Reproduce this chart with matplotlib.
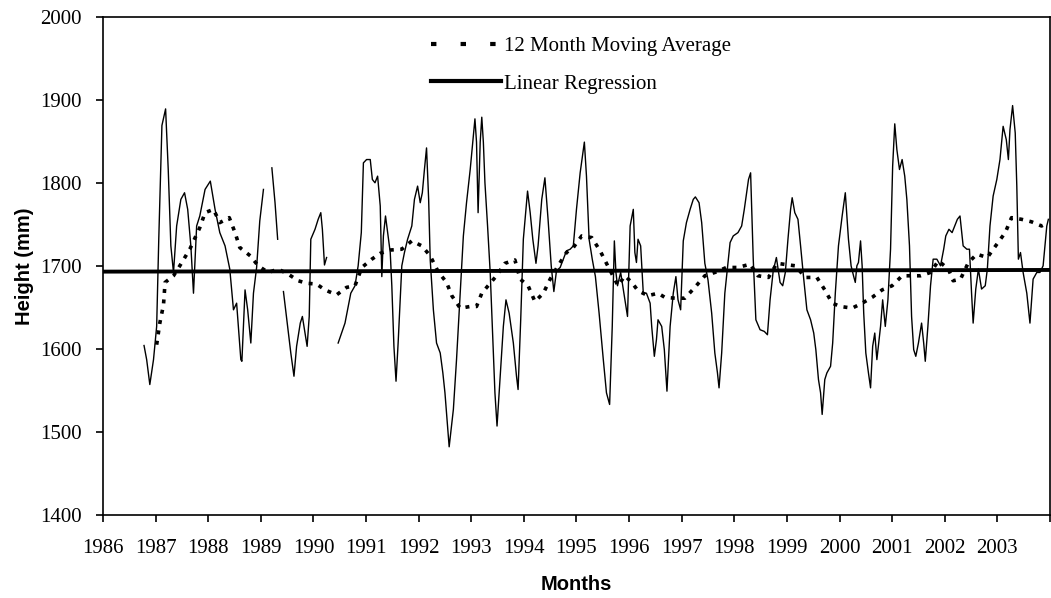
import numpy as np
import matplotlib
matplotlib.use('Agg')
import matplotlib.pyplot as plt
from matplotlib.lines import Line2D

# monthly heights (decimal year, mm); nan marks gaps in the record
height_years = [
    1986.78, 1986.83, 1986.89, 1986.96, 1987.02, 1987.06, 1987.12, 1987.19, 1987.24, 1987.29,
    1987.34, 1987.40, 1987.48, 1987.55, 1987.61, 1987.67, 1987.72, 1987.78, 1987.84, 1987.94,
    1988.04, 1988.13, 1988.22, 1988.32, 1988.41, 1988.48, 1988.54, 1988.62, 1988.64, 1988.70,
    1988.75, 1988.81, 1988.86, 1988.92, 1988.98, 1989.05, 1989.13,
    1989.21, 1989.27, 1989.32, 1989.38,
    1989.43, 1989.51, 1989.57, 1989.63, 1989.68, 1989.75, 1989.79, 1989.84, 1989.88, 1989.92,
    1989.95, 1990.03, 1990.09, 1990.14, 1990.17, 1990.21, 1990.25, 1990.36,
    1990.47, 1990.60, 1990.71, 1990.79, 1990.85, 1990.91, 1990.95, 1991.01, 1991.08, 1991.12,
    1991.17, 1991.22, 1991.27, 1991.30, 1991.33, 1991.37, 1991.41, 1991.46, 1991.49, 1991.53,
    1991.57, 1991.61, 1991.68, 1991.73, 1991.79, 1991.87, 1991.92, 1991.98, 1992.03, 1992.07,
    1992.11, 1992.15, 1992.19, 1992.22, 1992.28, 1992.34, 1992.41, 1992.46, 1992.50, 1992.58,
    1992.66, 1992.72, 1992.79, 1992.85, 1992.91, 1992.98, 1993.04, 1993.07, 1993.10, 1993.13,
    1993.17, 1993.20, 1993.23, 1993.26, 1993.31, 1993.36, 1993.40, 1993.45, 1993.49, 1993.55,
    1993.61, 1993.66, 1993.72, 1993.80, 1993.86, 1993.89, 1993.94, 1993.99, 1994.07, 1994.12,
    1994.17, 1994.23, 1994.27, 1994.34, 1994.40, 1994.46, 1994.52, 1994.57, 1994.62, 1994.69,
    1994.75, 1994.81, 1994.88, 1994.94, 1995.00, 1995.07, 1995.15, 1995.19, 1995.24, 1995.30,
    1995.36, 1995.43, 1995.51, 1995.57, 1995.63, 1995.68, 1995.72, 1995.75, 1995.78, 1995.84,
    1995.92, 1995.97, 1996.02, 1996.08, 1996.11, 1996.14, 1996.17, 1996.22, 1996.27, 1996.33,
    1996.40, 1996.43, 1996.48, 1996.52, 1996.55, 1996.62, 1996.67, 1996.72, 1996.78, 1996.84,
    1996.89, 1996.93, 1996.98, 1997.03, 1997.09, 1997.16, 1997.22, 1997.26, 1997.33, 1997.38,
    1997.44, 1997.50, 1997.57, 1997.63, 1997.68, 1997.71, 1997.76, 1997.82, 1997.92, 1997.98,
    1998.07, 1998.14, 1998.19, 1998.27, 1998.31, 1998.36, 1998.41, 1998.49, 1998.57, 1998.63,
    1998.68, 1998.74, 1998.80, 1998.87, 1998.92, 1998.97, 1999.02, 1999.07, 1999.10, 1999.15,
    1999.21, 1999.26, 1999.32, 1999.38, 1999.45, 1999.51, 1999.55, 1999.60, 1999.64, 1999.67,
    1999.72, 1999.76, 1999.83, 1999.87, 1999.92, 1999.98, 2000.05, 2000.11, 2000.14, 2000.17,
    2000.22, 2000.27, 2000.30, 2000.33, 2000.36, 2000.40, 2000.43, 2000.46, 2000.50, 2000.55,
    2000.59, 2000.63, 2000.67, 2000.71, 2000.78, 2000.82, 2000.87, 2000.92, 2000.97, 2001.01,
    2001.05, 2001.09, 2001.14, 2001.19, 2001.24, 2001.28, 2001.33, 2001.37, 2001.41, 2001.45,
    2001.50, 2001.56, 2001.60, 2001.63, 2001.68, 2001.73, 2001.78, 2001.85, 2001.92, 2001.98,
    2002.02, 2002.08, 2002.14, 2002.19, 2002.24, 2002.29, 2002.35, 2002.42, 2002.47, 2002.51,
    2002.54, 2002.59, 2002.64, 2002.70, 2002.77, 2002.81, 2002.86, 2002.92, 2002.99, 2003.05,
    2003.11, 2003.17, 2003.21, 2003.24, 2003.29, 2003.34, 2003.37, 2003.40, 2003.44, 2003.49,
    2003.56, 2003.62, 2003.68, 2003.75, 2003.81, 2003.87, 2003.94, 2003.97,
]
height_mm = [
    1604, 1587, 1557, 1587, 1627, 1732, 1869, 1889, 1816, 1724,
    1692, 1748, 1780, 1788, 1768, 1724, 1667, 1748, 1760, 1792,
    1802, 1768, 1740, 1724, 1696, 1647, 1655, 1587, 1585, 1671,
    1647, 1607, 1667, 1698, 1754, 1792, np.nan,
    1818, 1776, 1732, np.nan,
    1669, 1627, 1595, 1567, 1603, 1631, 1639, 1619, 1603, 1639,
    1732, 1744, 1756, 1764, 1744, 1701, 1710, np.nan,
    1607, 1631, 1667, 1676, 1700, 1740, 1824, 1828, 1828, 1804,
    1800, 1808, 1772, 1687, 1736, 1760, 1740, 1716, 1676, 1603,
    1561, 1607, 1700, 1716, 1732, 1748, 1780, 1796, 1776, 1788,
    1816, 1842, 1780, 1707, 1647, 1607, 1595, 1571, 1547, 1482,
    1527, 1587, 1667, 1736, 1776, 1816, 1857, 1877, 1849, 1764,
    1849, 1879, 1849, 1800, 1748, 1692, 1627, 1547, 1507, 1567,
    1627, 1659, 1643, 1607, 1567, 1551, 1635, 1732, 1790, 1764,
    1732, 1703, 1724, 1780, 1806, 1756, 1700, 1669, 1694, 1698,
    1708, 1718, 1720, 1724, 1768, 1812, 1849, 1808, 1732, 1708,
    1687, 1643, 1587, 1547, 1533, 1627, 1730, 1692, 1676, 1692,
    1659, 1639, 1748, 1768, 1716, 1704, 1732, 1724, 1667, 1667,
    1655, 1627, 1591, 1611, 1635, 1627, 1599, 1549, 1627, 1667,
    1687, 1659, 1647, 1730, 1752, 1768, 1780, 1783, 1776, 1752,
    1703, 1683, 1643, 1595, 1571, 1553, 1595, 1667, 1728, 1736,
    1740, 1748, 1768, 1804, 1812, 1708, 1635, 1623, 1621, 1617,
    1659, 1694, 1710, 1680, 1676, 1692, 1732, 1768, 1782, 1764,
    1756, 1724, 1684, 1647, 1635, 1619, 1599, 1563, 1547, 1521,
    1563, 1571, 1579, 1607, 1667, 1724, 1760, 1788, 1760, 1732,
    1700, 1687, 1680, 1700, 1704, 1730, 1700, 1643, 1595, 1571,
    1553, 1603, 1619, 1587, 1627, 1659, 1627, 1659, 1720, 1820,
    1871, 1840, 1816, 1828, 1808, 1780, 1724, 1639, 1599, 1591,
    1607, 1631, 1607, 1585, 1627, 1676, 1708, 1708, 1700, 1720,
    1736, 1744, 1740, 1748, 1756, 1760, 1724, 1720, 1720, 1667,
    1631, 1672, 1696, 1672, 1676, 1696, 1748, 1784, 1804, 1828,
    1868, 1852, 1828, 1864, 1893, 1860, 1796, 1708, 1716, 1692,
    1667, 1631, 1684, 1692, 1692, 1700, 1748, 1756,
]

# 12 month moving average
ma_years = [
    1987.02, 1987.08, 1987.15, 1987.18, 1987.34, 1987.46, 1987.65, 1987.84, 1987.94, 1988.10,
    1988.22, 1988.40, 1988.51, 1988.60, 1988.80, 1988.95, 1989.14, 1989.33, 1989.52, 1989.71,
    1989.87, 1990.06, 1990.22, 1990.44, 1990.63, 1990.79, 1990.92, 1991.11, 1991.27, 1991.46,
    1991.68, 1991.87, 1992.06, 1992.22, 1992.37, 1992.53, 1992.63, 1992.79, 1992.98, 1993.10,
    1993.20, 1993.48, 1993.64, 1993.83, 1993.93, 1994.08, 1994.21, 1994.37, 1994.50, 1994.65,
    1994.81, 1994.94, 1995.10, 1995.29, 1995.45, 1995.57, 1995.79, 1995.92, 1996.05, 1996.17,
    1996.36, 1996.55, 1996.68, 1996.87, 1997.06, 1997.25, 1997.44, 1997.63, 1997.85, 1998.07,
    1998.30, 1998.45, 1998.65, 1998.81, 1999.16, 1999.35, 1999.57, 1999.73, 1999.86, 2000.02,
    2000.24, 2000.43, 2000.62, 2000.81, 2001.00, 2001.19, 2001.38, 2001.54, 2001.73, 2001.88,
    2002.07, 2002.16, 2002.30, 2002.45, 2002.61, 2002.81, 2002.99, 2003.15, 2003.27, 2003.46,
    2003.65, 2003.84, 2003.97,
]
ma_mm = [
    1605, 1631, 1653, 1680, 1688, 1700, 1720, 1746, 1764, 1768,
    1752, 1758, 1740, 1722, 1712, 1700, 1692, 1696, 1690, 1682,
    1679, 1678, 1671, 1665, 1674, 1676, 1698, 1708, 1715, 1719,
    1720, 1730, 1724, 1712, 1693, 1680, 1664, 1649, 1651, 1651,
    1667, 1688, 1703, 1707, 1684, 1676, 1657, 1667, 1684, 1700,
    1716, 1722, 1736, 1734, 1718, 1703, 1676, 1688, 1680, 1670,
    1664, 1667, 1662, 1661, 1661, 1674, 1688, 1692, 1698, 1698,
    1702, 1688, 1686, 1703, 1700, 1686, 1686, 1670, 1655, 1651,
    1649, 1655, 1662, 1671, 1676, 1688, 1688, 1688, 1692, 1706,
    1696, 1682, 1684, 1704, 1714, 1710, 1726, 1740, 1758, 1756,
    1753, 1748, 1752,
]

# linear regression end points
reg_years = [1986, 2004]
reg_mm = [1693, 1695]

year_ticks = list(range(1986, 2005))
year_labels = [str(y) for y in range(1986, 2004)] + ['']
height_ticks = list(range(1400, 2001, 100))

serif = 'Liberation Serif'
sans = 'Liberation Sans'

fig = plt.figure(figsize=(10.51, 5.98), dpi=100)
ax = fig.add_axes([0.098, 0.139, 0.901, 0.833])

ax.plot(height_years, height_mm, color='black', linewidth=1.0)
ax.plot(ma_years, ma_mm, color='black', linewidth=2.6, dashes=(1.1, 1.8))
ax.plot(reg_years, reg_mm, color='black', linewidth=2.8)

ax.set_xlim(1986, 2004)
ax.set_ylim(1400, 2000)
ax.set_xticks(year_ticks)
ax.set_xticklabels(year_labels, fontfamily=serif, fontsize=15)
ax.set_yticks(height_ticks)
ax.set_yticklabels([str(v) for v in height_ticks], fontfamily=serif, fontsize=15)
ax.tick_params(axis='x', direction='out', length=5, width=1.2, pad=12.5)
ax.tick_params(axis='y', direction='out', length=5, width=1.2, pad=10.5)

for s in ax.spines.values():
    s.set_linewidth(1.2)

ax.set_xlabel('Months', fontfamily=sans, fontweight='bold', fontsize=14.5, labelpad=12)
ax.set_ylabel('Height (mm)', fontfamily=sans, fontweight='bold', fontsize=14.5, labelpad=4)

# legend proxies (Excel draws the dashes wider in the key)
ma_key = Line2D([], [], color='black', linewidth=3.0, dashes=(1.3, 5.8))
reg_key = Line2D([], [], color='black', linewidth=3.0)
ax.legend(handles=[ma_key, reg_key], labels=['12 Month Moving Average', 'Linear Regression'],
          loc='upper left', bbox_to_anchor=(0.346, 0.96),
          frameon=False, handlelength=3.4, handletextpad=0.1, borderpad=0,
          borderaxespad=0, labelspacing=0.85, prop={'family': serif, 'size': 15})

fig.savefig('out.png', dpi=100)
